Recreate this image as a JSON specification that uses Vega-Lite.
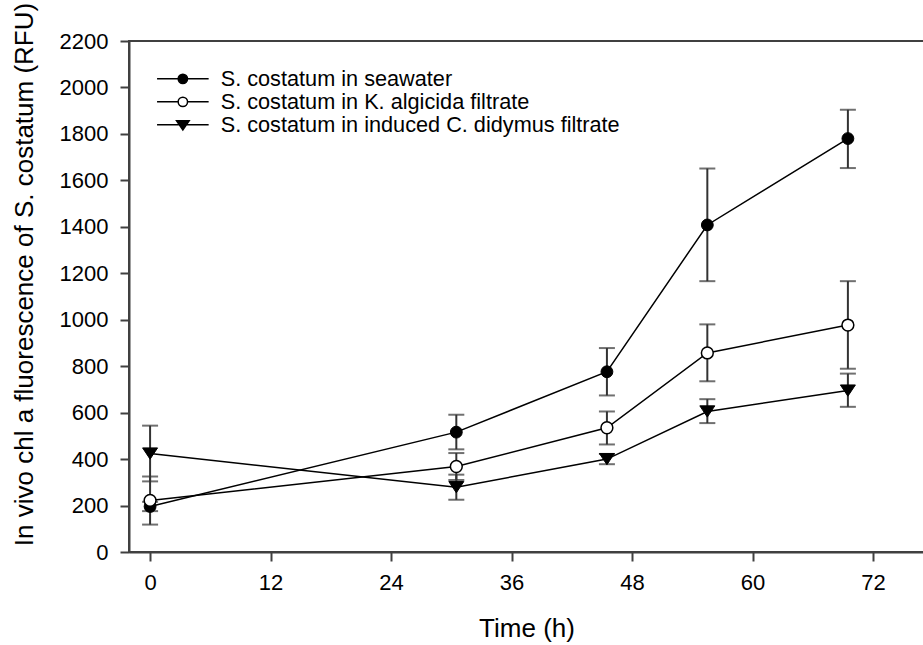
{
  "$schema": "https://vega.github.io/schema/vega-lite/v6.json",
  "width": 795,
  "height": 511,
  "autosize": {"type": "none"},
  "padding": {"left": 129, "top": 41, "right": 0, "bottom": 93},
  "background": "white",
  "config": {
    "view": {"stroke": "#404040", "strokeWidth": 2},
    "font": "Liberation Sans",
    "axis": {
      "domainColor": "#404040", "domainWidth": 2,
      "tickColor": "#404040", "tickWidth": 2, "tickSize": 9,
      "labelFont": "Liberation Sans", "labelFontSize": 22, "labelColor": "black",
      "titleFont": "Liberation Sans", "titleFontSize": 26, "titleFontWeight": "normal", "titleColor": "black",
      "grid": false
    },
    "legend": {
      "labelFont": "Liberation Sans", "labelFontSize": 21.7, "labelColor": "black",
      "symbolSize": 88, "symbolStrokeWidth": 1.5,
      "symbolOffset": 26, "labelOffset": 27, "rowPadding": -2, "padding": 0,
      "labelLimit": 700, "orient": "none", "legendX": 17, "legendY": 27
    }
  },
  "data": {
    "values": [
      {"t": 0, "series": "S. costatum in seawater", "y": 196, "lo": 176, "hi": 216},
      {"t": 30.5, "series": "S. costatum in seawater", "y": 516, "lo": 442, "hi": 591},
      {"t": 45.5, "series": "S. costatum in seawater", "y": 776, "lo": 674, "hi": 878},
      {"t": 55.5, "series": "S. costatum in seawater", "y": 1408, "lo": 1166, "hi": 1651},
      {"t": 69.5, "series": "S. costatum in seawater", "y": 1780, "lo": 1653, "hi": 1904},
      {"t": 0, "series": "S. costatum in K. algicida filtrate", "y": 222, "lo": 118, "hi": 325},
      {"t": 30.5, "series": "S. costatum in K. algicida filtrate", "y": 368, "lo": 310, "hi": 426},
      {"t": 45.5, "series": "S. costatum in K. algicida filtrate", "y": 535, "lo": 463, "hi": 605},
      {"t": 55.5, "series": "S. costatum in K. algicida filtrate", "y": 857, "lo": 735, "hi": 980},
      {"t": 69.5, "series": "S. costatum in K. algicida filtrate", "y": 977, "lo": 789, "hi": 1166},
      {"t": 0, "series": "S. costatum in induced C. didymus filtrate", "y": 424, "lo": 304, "hi": 544},
      {"t": 30.5, "series": "S. costatum in induced C. didymus filtrate", "y": 279, "lo": 225, "hi": 333},
      {"t": 45.5, "series": "S. costatum in induced C. didymus filtrate", "y": 400, "lo": 378, "hi": 422},
      {"t": 55.5, "series": "S. costatum in induced C. didymus filtrate", "y": 605, "lo": 555, "hi": 658},
      {"t": 69.5, "series": "S. costatum in induced C. didymus filtrate", "y": 695, "lo": 625, "hi": 768}
    ]
  },
  "encoding": {
    "x": {
      "field": "t", "type": "quantitative", "title": "Time (h)",
      "scale": {"domain": [-2.1, 77.08], "nice": false, "zero": false},
      "axis": {"values": [0, 12, 24, 36, 48, 60, 72], "labelPadding": 11, "titlePadding": 22}
    }
  },
  "layer": [
    {
      "mark": {"type": "rule", "color": "#333333", "strokeWidth": 2},
      "encoding": {
        "y": {
          "field": "lo", "type": "quantitative",
          "title": "In vivo chl a fluorescence of S. costatum (RFU)",
          "scale": {"domain": [0, 2200], "nice": false},
          "axis": {"values": [0, 200, 400, 600, 800, 1000, 1200, 1400, 1600, 1800, 2000, 2200], "format": "d", "labelPadding": 12, "titlePadding": 22, "titleY": 233}
        },
        "y2": {"field": "hi"}
      }
    },
    {
      "mark": {"type": "tick", "orient": "horizontal", "color": "#333333", "thickness": 2, "size": 16},
      "encoding": {"y": {"field": "lo", "type": "quantitative", "title": "In vivo chl a fluorescence of S. costatum (RFU)"}}
    },
    {
      "mark": {"type": "tick", "orient": "horizontal", "color": "#333333", "thickness": 2, "size": 16},
      "encoding": {"y": {"field": "hi", "type": "quantitative", "title": "In vivo chl a fluorescence of S. costatum (RFU)"}}
    },
    {
      "mark": {"type": "line", "color": "black", "strokeWidth": 1.5},
      "encoding": {
        "y": {"field": "y", "type": "quantitative", "title": "In vivo chl a fluorescence of S. costatum (RFU)"},
        "detail": {"field": "series"}
      }
    },
    {
      "transform": [{"filter": {"field": "series", "equal": "S. costatum in seawater"}}],
      "mark": {"type": "point", "shape": "circle", "filled": true, "fill": "black", "stroke": "black", "strokeWidth": 1, "size": 140, "opacity": 1},
      "encoding": {"y": {"field": "y", "type": "quantitative", "title": "In vivo chl a fluorescence of S. costatum (RFU)"}}
    },
    {
      "transform": [{"filter": {"field": "series", "equal": "S. costatum in K. algicida filtrate"}}],
      "mark": {"type": "point", "shape": "circle", "filled": true, "fill": "white", "stroke": "black", "strokeWidth": 1.5, "size": 140, "opacity": 1},
      "encoding": {"y": {"field": "y", "type": "quantitative", "title": "In vivo chl a fluorescence of S. costatum (RFU)"}}
    },
    {
      "transform": [{"filter": {"field": "series", "equal": "S. costatum in induced C. didymus filtrate"}}],
      "mark": {"type": "point", "shape": "M0,0.75L1,-0.75L-1,-0.75Z", "filled": true, "fill": "black", "stroke": "black", "strokeWidth": 1, "size": 225, "opacity": 1},
      "encoding": {"y": {"field": "y", "type": "quantitative", "title": "In vivo chl a fluorescence of S. costatum (RFU)"}}
    },
    {
      "transform": [{"filter": "false"}],
      "mark": {"type": "point", "strokeWidth": 1.5, "opacity": 1},
      "encoding": {
        "y": {"field": "y", "type": "quantitative", "title": "In vivo chl a fluorescence of S. costatum (RFU)"},
        "shape": {
          "field": "series", "type": "nominal", "title": null,
          "scale": {
            "domain": ["S. costatum in seawater", "S. costatum in K. algicida filtrate", "S. costatum in induced C. didymus filtrate"],
            "range": [
              "M-5.5,0L-1,0M1,0L5.5,0M-1,0A1,1,0,1,1,1,0A1,1,0,1,1,-1,0Z",
              "M-5.5,0L-1,0M1,0L5.5,0M-1,0A1,1,0,1,1,1,0A1,1,0,1,1,-1,0Z",
              "M-5.5,0L5.5,0M-1.35,-0.9L1.35,-0.9L0,1.1Z"
            ]
          }
        },
        "fill": {
          "field": "series", "type": "nominal", "title": null,
          "scale": {
            "domain": ["S. costatum in seawater", "S. costatum in K. algicida filtrate", "S. costatum in induced C. didymus filtrate"],
            "range": ["black", "white", "black"]
          }
        },
        "stroke": {
          "field": "series", "type": "nominal", "title": null,
          "scale": {
            "domain": ["S. costatum in seawater", "S. costatum in K. algicida filtrate", "S. costatum in induced C. didymus filtrate"],
            "range": ["black", "black", "black"]
          }
        }
      }
    }
  ]
}
